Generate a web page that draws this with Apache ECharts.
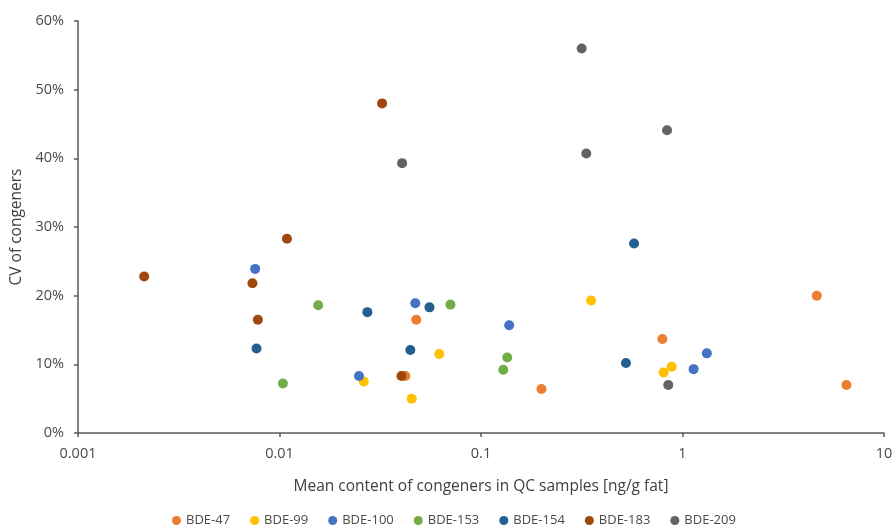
<!DOCTYPE html>
<html>
<head>
<meta charset="utf-8">
<script src="https://cdn.jsdelivr.net/npm/echarts@6/dist/echarts.min.js"></script>
<style>html,body{margin:0;padding:0;background:#fff}#c{width:896px;height:532px}</style>
</head>
<body>
<div id="c"></div>
<script>
// Series data: [mean content (ng/g fat), CV (%)]
const bde47  = [[4.64,20.0],[6.51,7.0],[0.794,13.7],[0.1995,6.4],[0.0477,16.5],[0.0421,8.3]];
const bde99  = [[0.352,19.3],[0.0621,11.5],[0.0262,7.5],[0.0453,5.0],[0.883,9.65],[0.806,8.8]];
const bde100 = [[0.00757,23.9],[0.0472,18.9],[0.138,15.7],[0.0248,8.3],[1.32,11.6],[1.135,9.3]];
const bde153 = [[0.0104,7.2],[0.01556,18.6],[0.0705,18.7],[0.135,11.0],[0.129,9.2]];
const bde154 = [[0.00769,12.3],[0.0273,17.6],[0.0555,18.3],[0.0446,12.1],[0.575,27.6],[0.524,10.2]];
const bde183 = [[0.00213,22.8],[0.00734,21.8],[0.00781,16.5],[0.01089,28.3],[0.0323,48.0],[0.0403,8.3]];
const bde209 = [[0.316,56.0],[0.0406,39.3],[0.333,40.7],[0.838,44.1],[0.850,7.0]];

const seriesNames = ['BDE-47','BDE-99','BDE-100','BDE-153','BDE-154','BDE-183','BDE-209'];
const seriesData = [bde47,bde99,bde100,bde153,bde154,bde183,bde209];
const colors = ['#ED7D31','#FFC000','#4472C4','#70AD47','#255E91','#9E480E','#636363'];
const xTicks = ['0.001','0.01','0.1','1','10'];

const font = '"Open Sans", "Noto Sans", sans-serif';
const chart = echarts.init(document.getElementById('c'), null, {renderer:'canvas'});
chart.setOption({
  animation:false,
  color: colors,
  textStyle:{fontFamily:font},
  grid:{left:78,right:12,top:21,bottom:99,containLabel:false},
  xAxis:{
    type:'log', logBase:10, min:0.001, max:10,
    name:'Mean content of congeners in QC samples [ng/g fat]',
    nameLocation:'middle', nameGap:46,
    nameTextStyle:{color:'#404040',fontSize:15.5,fontFamily:font},
    axisLine:{show:true,lineStyle:{color:'#595959',width:1.5}},
    axisTick:{show:true,length:4,lineStyle:{color:'#595959',width:1.5}},
    minorTick:{show:false},
    splitLine:{show:false},
    axisLabel:{color:'#4a4a4a',fontSize:14.5,margin:13,fontFamily:font,
      formatter:function(v){
        const e=Math.round(Math.log10(v));
        return xTicks[e+3] !== undefined ? xTicks[e+3] : String(v);
      }}
  },
  yAxis:{
    type:'value', min:0, max:60, interval:10,
    name:'CV of congeners', nameLocation:'middle', nameGap:50, nameRotate:90,
    nameTextStyle:{color:'#404040',fontSize:15.5,fontFamily:font},
    axisLine:{show:true,lineStyle:{color:'#595959',width:1.5}},
    axisTick:{show:true,length:4,lineStyle:{color:'#595959',width:1.5}},
    splitLine:{show:false},
    axisLabel:{color:'#4a4a4a',fontSize:14.5,margin:14,fontFamily:font,formatter:'{value}%'}
  },
  legend:{
    bottom:0, left:167, icon:'circle', itemWidth:9, itemHeight:9, itemGap:20,
    textStyle:{color:'#4a4a4a',fontSize:13,fontFamily:font},
    data:seriesNames
  },
  series: seriesNames.map((n,i)=>({
    name:n, type:'scatter', symbol:'circle', symbolSize:10,
    itemStyle:{color:colors[i],opacity:1},
    data:seriesData[i]
  }))
});
</script>
</body>
</html>
